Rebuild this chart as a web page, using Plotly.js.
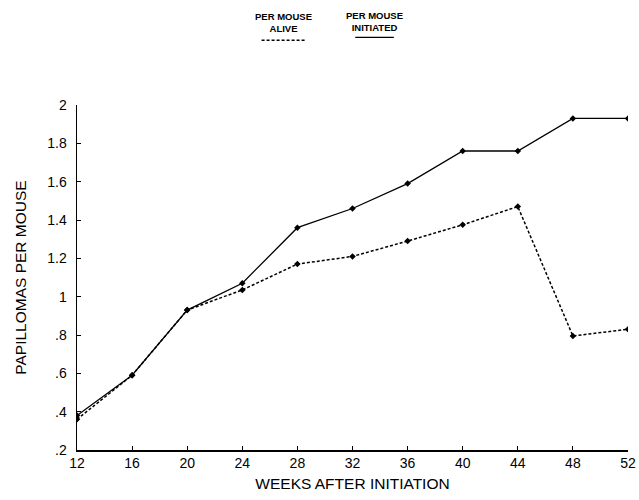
<!DOCTYPE html>
<html><head><meta charset="utf-8">
<script src="https://cdn.plot.ly/plotly-3.0.1.min.js"></script>
<style>body{margin:0;background:#fff}#chart{width:639px;height:500px}</style>
</head><body><div id="chart"></div>
<script>
const weeks = [12, 16, 20, 24, 28, 32, 36, 40, 44, 48, 52];
const perMouseInitiated = [0.38, 0.59, 0.93, 1.07, 1.36, 1.46, 1.59, 1.76, 1.76, 1.93, 1.93];
const perMouseAlive = [0.36, 0.59, 0.93, 1.035, 1.17, 1.21, 1.29, 1.375, 1.47, 0.795, 0.83];
const yTickVals = [0.2, 0.4, 0.6, 0.8, 1.0, 1.2, 1.4, 1.6, 1.8, 2.0];
const yTickText = ['.2', '.4', '.6', '.8', '1', '1.2', '1.4', '1.6', '1.8', '2'];
const xTickVals = [12, 16, 20, 24, 28, 32, 36, 40, 44, 48, 52];

const traces = [
  {x: weeks, y: perMouseInitiated, mode: 'lines+markers', name: 'PER MOUSE INITIATED',
   line: {color: '#000', width: 1.3}, marker: {color: '#000', size: 5, symbol: 'diamond'}},
  {x: weeks, y: perMouseAlive, mode: 'lines+markers', name: 'PER MOUSE ALIVE',
   line: {color: '#000', width: 1.5, dash: '3px,2px'}, marker: {color: '#000', size: 5, symbol: 'diamond'}}
];

const lf = {family: 'Liberation Sans, Arial, sans-serif', size: 9.5, color: '#000', weight: 'bold'};
const layout = {
  width: 639, height: 500,
  margin: {l: 77, r: 11, t: 105, b: 50},
  paper_bgcolor: '#fff', plot_bgcolor: '#fff',
  showlegend: false,
  font: {family: 'Liberation Sans, Arial, sans-serif', color: '#000'},
  xaxis: {range: [12, 52], tickvals: xTickVals, ticks: 'inside', ticklen: 4, tickcolor: '#000',
    showline: true, linecolor: '#000', linewidth: 1.5, showgrid: false, zeroline: false,
    tickfont: {size: 14},
    title: {text: 'WEEKS AFTER INITIATION', font: {size: 15.5}, standoff: 8}},
  yaxis: {range: [0.2, 2.0], tickvals: yTickVals, ticktext: yTickText, ticks: 'inside', ticklen: 4, tickcolor: '#000',
    showline: true, linecolor: '#000', linewidth: 1.5, showgrid: false, zeroline: false,
    tickfont: {size: 14}, ticklabelstandoff: 6,
    title: {text: 'PAPILLOMAS PER MOUSE', font: {size: 15.5}, standoff: 17}},
  annotations: [
    {xref: 'paper', yref: 'paper', x: 0.374, y: 1.240, yanchor: 'middle', text: 'PER MOUSE<br>ALIVE', showarrow: false, font: lf, align: 'center'},
    {xref: 'paper', yref: 'paper', x: 0.540, y: 1.243, yanchor: 'middle', text: 'PER MOUSE<br>INITIATED', showarrow: false, font: lf, align: 'center'}
  ],
  shapes: [
    {type: 'line', xref: 'paper', yref: 'paper', x0: 0.335, x1: 0.415, y0: 1.188, y1: 1.188, line: {color: '#000', width: 1.5, dash: '3px,2px'}},
    {type: 'line', xref: 'paper', yref: 'paper', x0: 0.505, x1: 0.575, y0: 1.196, y1: 1.196, line: {color: '#000', width: 1.3}}
  ]
};
Plotly.newPlot('chart', traces, layout, {displayModeBar: false, staticPlot: true});
</script></body></html>
